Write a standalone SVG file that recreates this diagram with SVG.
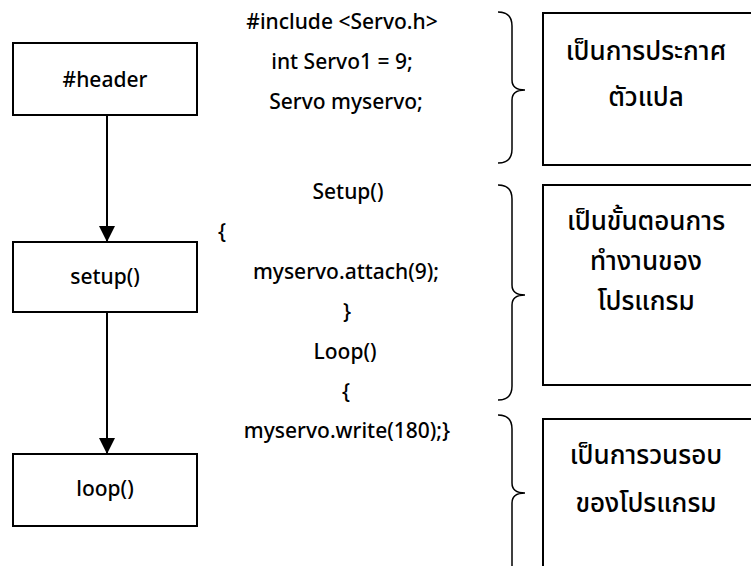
<svg xmlns="http://www.w3.org/2000/svg" width="751" height="566" viewBox="0 0 751 566">
<defs>
<style>
.box{fill:#fff;stroke:#000;stroke-width:2}
.t{font-family:"Noto Sans","DejaVu Sans",sans-serif;font-size:21px;font-weight:500;fill:#000;text-anchor:middle}
.th{font-family:"Noto Sans Thai","Noto Sans","DejaVu Sans",sans-serif;font-size:26px;font-weight:500;fill:#000;text-anchor:middle}
.brace{fill:none;stroke:#000;stroke-width:1.5}
.edge{fill:none;stroke:#000;stroke-width:2}
</style>
<marker id="arr" viewBox="0 0 16 16" refX="16" refY="8" markerWidth="16" markerHeight="16" markerUnits="userSpaceOnUse" orient="auto">
<path d="M0,0 L16,8 L0,16 Z" fill="#000"/>
</marker>
</defs>
<rect width="751" height="566" fill="#fff"/>
<g id="connectors">
<line class="edge" x1="107" y1="116" x2="107" y2="242" marker-end="url(#arr)"/>
<line class="edge" x1="107" y1="312" x2="107" y2="454" marker-end="url(#arr)"/>
</g>
<g id="header">
<rect class="box" x="13" y="43" width="184" height="72"/>
<text class="t" x="105" y="87">#header</text>
</g>
<g id="setup">
<rect class="box" x="13" y="242" width="184" height="70"/>
<text class="t" x="105" y="284">setup()</text>
</g>
<g id="loop">
<rect class="box" x="13" y="454" width="184" height="72"/>
<text class="t" x="105" y="496">loop()</text>
</g>
<g id="code">
<text class="t" x="342" y="29">#include &lt;Servo.h&gt;</text>
<text class="t" x="342" y="69">int Servo1 = 9;</text>
<text class="t" x="346" y="109">Servo myservo;</text>
<text class="t" x="348" y="199">Setup()</text>
<text class="t" x="222" y="239">{</text>
<text class="t" x="346" y="279">myservo.attach(9);</text>
<text class="t" x="347" y="319">}</text>
<text class="t" x="345" y="359">Loop()</text>
<text class="t" x="346" y="399">{</text>
<text class="t" x="347" y="438">myservo.write(180);}</text>
</g>
<g id="braces">
<path class="brace" d="M498,12 Q512,12 512,26 L512,80 Q512,90 525,90 Q512,90 512,100 L512,149 Q512,163 498,163"/>
<path class="brace" d="M498,185 Q512,185 512,199 L512,285 Q512,295 525,295 Q512,295 512,305 L512,386 Q512,400 498,400"/>
<path class="brace" d="M498,415 Q512,415 512,429 L512,483 Q512,493 525,493 Q512,493 512,503 L512,566 Q512,580 498,580"/>
</g>
<g id="desc1">
<rect class="box" x="543" y="13" width="212" height="152"/>
<text class="th" x="646" y="60">เป็นการประกาศ</text>
<text class="th" x="646" y="106">ตัวแปล</text>
</g>
<g id="desc2">
<rect class="box" x="543" y="185" width="212" height="200"/>
<text class="th" x="646" y="230">เป็นขั้นตอนการ</text>
<text class="th" x="646" y="270">ทำงานของ</text>
<text class="th" x="646" y="310">โปรแกรม</text>
</g>
<g id="desc3">
<rect class="box" x="543" y="419" width="212" height="160"/>
<text class="th" x="646" y="464">เป็นการวนรอบ</text>
<text class="th" x="646" y="512">ของโปรแกรม</text>
</g>
</svg>
